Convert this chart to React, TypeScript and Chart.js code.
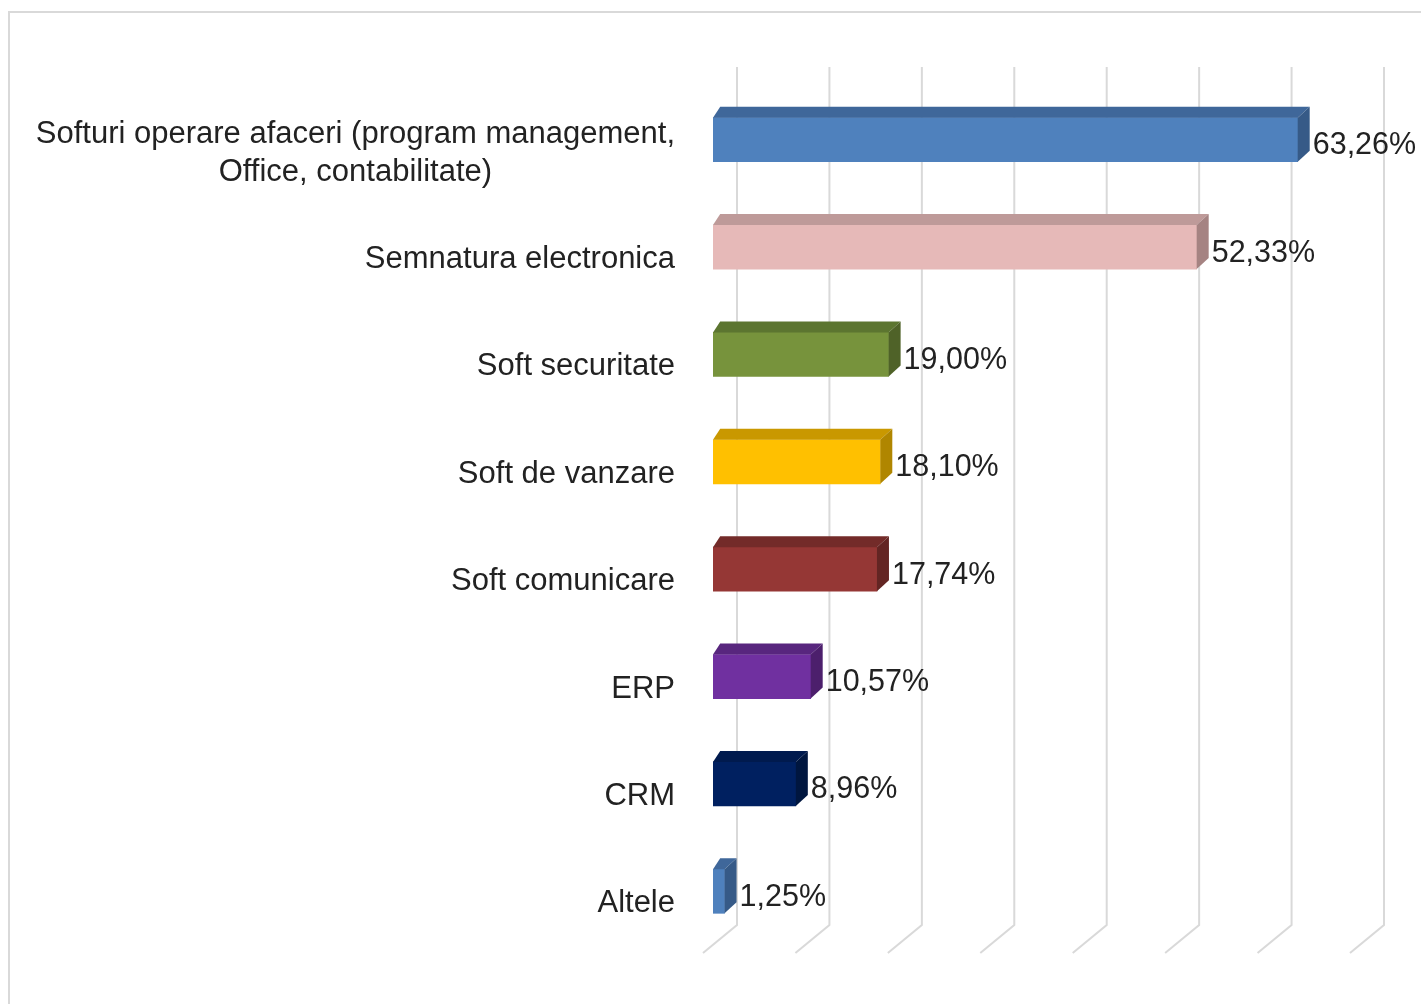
import React, { useEffect, useRef } from "react";
import { Chart, registerables } from "chart.js";

Chart.register(...registerables);

const categories: string[][] = [
  ["Softuri operare afaceri (program management,", "Office, contabilitate)"],
  ["Semnatura electronica"],
  ["Soft securitate"],
  ["Soft de vanzare"],
  ["Soft comunicare"],
  ["ERP"],
  ["CRM"],
  ["Altele"],
];
const values: number[] = [63.26, 52.33, 19.0, 18.1, 17.74, 10.57, 8.96, 1.25];
const valueLabels: string[] = ["63,26%", "52,33%", "19,00%", "18,10%", "17,74%", "10,57%", "8,96%", "1,25%"];
const frontColors: string[] = ["#4F81BD", "#E6B9B8", "#77933C", "#FFC000", "#953735", "#7030A0", "#002060", "#4F81BD"];
const topColors: string[] = ["#3F679A", "#BE9A99", "#5C7530", "#C99800", "#732B29", "#58267E", "#001A4E", "#3F679A"];
const sideColors: string[] = ["#365A87", "#A58382", "#4F6228", "#B08600", "#632523", "#4C1F6C", "#00163F", "#365A87"];
const gridTicks: number[] = [0, 10, 20, 30, 40, 50, 60, 70];

const DX = 12;
const DY = 11;
const FONT = '"Liberation Sans", Arial, sans-serif';

const decorPlugin = {
  id: "decor3d",
  beforeDraw(chart: any) {
    const ctx = chart.ctx;
    ctx.save();
    ctx.fillStyle = "#ffffff";
    ctx.fillRect(0, 0, chart.width, chart.height);
    ctx.strokeStyle = "#D9D9D9";
    ctx.lineWidth = 2;
    ctx.strokeRect(9, 12, chart.width + 20, chart.height + 20);
    ctx.restore();
  },
  beforeDatasetsDraw(chart: any) {
    const ctx = chart.ctx;
    const xs = chart.scales.x;
    const area = chart.chartArea;
    ctx.save();
    ctx.strokeStyle = "#D9D9D9";
    ctx.lineWidth = 2;
    for (const v of gridTicks) {
      const px = xs.getPixelForValue(v);
      ctx.beginPath();
      ctx.moveTo(px + 24, area.top - 19);
      ctx.lineTo(px + 24, area.bottom - 20);
      ctx.lineTo(px - 10, area.bottom + 8);
      ctx.stroke();
    }
    ctx.restore();
  },
  afterDatasetsDraw(chart: any) {
    const ctx = chart.ctx;
    const meta = chart.getDatasetMeta(0);
    const ys = chart.scales.y;
    ctx.save();
    meta.data.forEach((bar: any, i: number) => {
      const { x, y, base, height } = bar.getProps(["x", "y", "base", "height"], true);
      const t = y - height / 2;
      const b = y + height / 2;
      // top face
      ctx.fillStyle = topColors[i];
      ctx.beginPath();
      ctx.moveTo(base, t);
      ctx.lineTo(base + DX * 0.6, t - DY);
      ctx.lineTo(x + DX, t - DY);
      ctx.lineTo(x, t);
      ctx.closePath();
      ctx.fill();
      // side face
      ctx.fillStyle = sideColors[i];
      ctx.beginPath();
      ctx.moveTo(x, t);
      ctx.lineTo(x + DX, t - DY);
      ctx.lineTo(x + DX, b - DY);
      ctx.lineTo(x, b);
      ctx.closePath();
      ctx.fill();
      // value label
      ctx.fillStyle = "#222222";
      ctx.font = `30.5px ${FONT}`;
      ctx.textAlign = "left";
      ctx.textBaseline = "alphabetic";
      ctx.fillText(valueLabels[i], x + DX + 3, y + 14.5);
    });
    // category labels
    ctx.font = `31px ${FONT}`;
    ctx.fillStyle = "#222222";
    ctx.textBaseline = "alphabetic";
    categories.forEach((lines, i) => {
      const cy = ys.getPixelForValue(i);
      const right = 675;
      const widths = lines.map((l) => ctx.measureText(l).width);
      const wmax = Math.max(...widths);
      const n = lines.length;
      lines.forEach((line, j) => {
        const baseline = n === 1 ? cy + 21 : cy + 3 + j * 38;
        ctx.textAlign = "center";
        ctx.fillText(line, right - wmax / 2, baseline);
      });
    });
    ctx.restore();
  },
};

export default function App() {
  const ref = useRef<HTMLCanvasElement | null>(null);
  useEffect(() => {
    if (!ref.current) return;
    const chart = new Chart(ref.current, {
      type: "bar",
      data: {
        labels: categories.map((c) => c.join(" ")),
        datasets: [
          {
            data: values,
            backgroundColor: frontColors,
            borderWidth: 0,
            barThickness: 44,
          },
        ],
      },
      options: {
        indexAxis: "y",
        animation: false,
        responsive: false,
        layout: { padding: { left: 0, right: 61, top: 86, bottom: 59 } },
        plugins: { legend: { display: false }, tooltip: { enabled: false } },
        scales: {
          x: { display: false, min: 0, max: 70 },
          y: {
            display: true,
            grid: { display: false, drawTicks: false },
            border: { display: false },
            ticks: { display: false },
            afterFit: (s: any) => {
              s.width = 713;
            },
          },
        },
      },
      plugins: [decorPlugin],
    } as any);
    return () => chart.destroy();
  }, []);
  return (
    <div style={{ position: "absolute", left: 0, top: 0, width: 1421, height: 1004 }}>
      <canvas ref={ref} width={1421} height={1004} style={{ display: "block" }} />
    </div>
  );
}
